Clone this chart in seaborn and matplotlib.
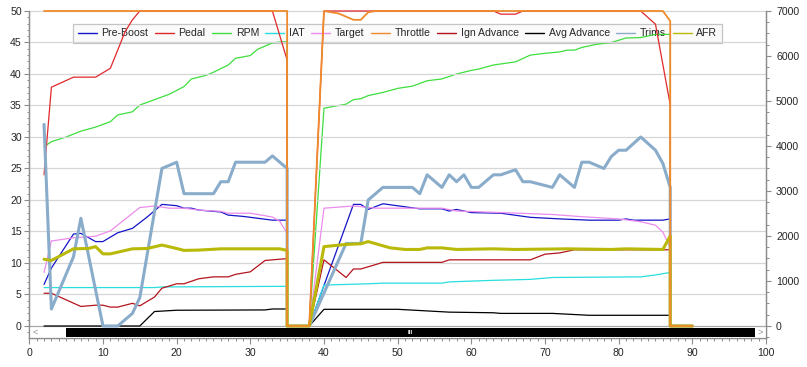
import matplotlib
matplotlib.use("Agg")
import matplotlib.pyplot as plt
from matplotlib.lines import Line2D
from matplotlib.patches import Rectangle
from matplotlib.ticker import MultipleLocator
import seaborn as sns

# ---------------- data ----------------
SERIES = ["Pre-Boost", "Pedal", "RPM", "IAT", "Target", "Throttle",
          "Ign Advance", "Avg Advance", "Trims", "AFR"]
COLORS = ["#1414c8", "#e0282c", "#3ede3e", "#28dede", "#ec8cec", "#ef8a2c",
          "#b4141c", "#000000", "#8aaccb", "#b9b909"]

X_TICKS = [0, 10, 20, 30, 40, 50, 60, 70, 80, 90, 100]
LEFT_TICKS = [0, 5, 10, 15, 20, 25, 30, 35, 40, 45, 50]
RIGHT_TICKS = [0, 1000, 2000, 3000, 4000, 5000, 6000, 7000]

# all channels read zero between the two pulls and after the second pull
GAP = [(35, 0), (38, 0)]
TAIL = [(87, 0), (90, 0)]

PRE_BOOST_1 = [(2, 6.6), (3, 9.2), (6, 14.6), (7, 14.7), (9, 13.4), (10, 13.4), (12, 14.8),
               (14, 15.5), (16, 17.3), (18, 19.3), (20, 19.1), (21, 18.7), (22, 18.7),
               (23, 18.4), (26, 18.1), (27, 17.6), (29, 17.4), (33, 16.8), (35, 16.8)]
PRE_BOOST_2 = [(44, 19.3), (45, 19.3), (46, 18.5), (48, 19.4), (53, 18.6), (56, 18.6),
               (57, 18.25), (58, 18.5), (60, 18.0), (64, 17.9), (68, 17.25), (72, 17.0),
               (76, 16.8), (80, 16.8), (81, 17.0), (82, 16.8), (86, 16.8), (87, 17.0)]

PEDAL_1 = [(2, 24.0), (3, 37.9), (6, 39.5), (9, 39.5), (11, 40.9), (12, 43.8), (13, 46.7),
           (14, 48.6), (15, 50), (33, 50), (35, 42.2)]
PEDAL_2 = [(40, 50), (63, 50), (64, 49.5), (66, 49.5), (67, 50), (83, 50), (85, 47.9),
           (87, 35.1)]

RPM_1 = [(2, 3985), (3, 4095), (5, 4200), (7, 4330), (9, 4420), (11, 4540), (12, 4690),
         (14, 4760), (15, 4910), (17, 5030), (19, 5150), (21, 5320), (22, 5490), (24, 5570),
         (25, 5640), (27, 5800), (28, 5950), (30, 6010), (31, 6150), (33, 6290), (34, 6310),
         (35, 6320)]
RPM_2 = [(40, 4840), (43, 4930), (44, 5030), (45, 5050), (46, 5120), (48, 5190), (50, 5280),
         (52, 5330), (54, 5450), (56, 5490), (58, 5600), (60, 5680), (61, 5710), (63, 5800),
         (66, 5870), (68, 6020), (70, 6060), (72, 6090), (73, 6130), (74, 6130), (75, 6190),
         (77, 6260), (79, 6300), (81, 6400), (83, 6410), (85, 6480), (87, 6480)]

IAT_1 = [(2, 6.1), (17, 6.1), (18, 6.2), (35, 6.3)]
IAT_2 = [(40, 6.5), (46, 6.7), (48, 6.8), (56, 6.8), (57, 7.0), (63, 7.25), (68, 7.4),
         (71, 7.7), (83, 7.8), (85, 8.1), (87, 8.5)]

TARGET_1 = [(2, 8.5), (3, 13.5), (6, 14.0), (9, 14.25), (11, 15.1), (15, 18.8), (17, 19.05),
            (19, 18.7), (21, 18.7), (23, 18.4), (26, 18.2), (27, 17.9), (30, 17.9),
            (32, 17.5), (33, 17.3), (34, 16.6), (35, 14.7)]
TARGET_2 = [(40, 18.7), (44, 19.05), (45, 18.95), (47, 18.7), (56, 18.7), (58, 18.25),
            (63, 18.05), (71, 17.7), (75, 17.35), (80, 17.0), (83, 16.55), (85, 16.0),
            (86, 14.9), (87, 12.4)]

THROTTLE_1 = [(2, 50), (35, 50)]
THROTTLE_2 = [(40, 50), (42, 49.6), (44, 48.6), (45, 48.6), (46, 49.8), (47, 50), (86, 50),
              (87, 48.4)]

IGN_1 = [(2, 5.2), (3, 5.2), (7, 3.1), (9, 3.3), (10, 3.3), (11, 3.0), (12, 3.0), (14, 3.6),
         (15, 3.2), (17, 4.6), (18, 6.0), (20, 6.7), (21, 6.7), (23, 7.5), (25, 7.8),
         (27, 7.8), (28, 8.2), (30, 8.6), (32, 10.4), (34, 10.6), (35, 10.7)]
IGN_2 = [(40, 10.5), (43, 7.7), (44, 9.05), (45, 9.05), (48, 10.1), (56, 10.1), (57, 10.5),
         (68, 10.5), (70, 11.4), (72, 11.6), (74, 12.1), (87, 12.1)]

AVG_1 = [(2, 0), (15, 0), (17, 2.3), (20, 2.5), (32, 2.55), (33, 2.7), (35, 2.7)]
AVG_2 = [(40, 2.65), (50, 2.65), (57, 2.2), (63, 2.1), (64, 2.0), (71, 2.0), (76, 1.7),
         (87, 1.7)]

TRIMS_1 = [(2, 32), (3, 2.7), (6, 11), (7, 17.1), (10, 0), (12, 0), (14, 2), (15, 4.5),
           (18, 25), (20, 26), (21, 21), (25, 21), (26, 22.9), (27, 22.9), (28, 26),
           (32, 26), (33, 27), (34, 26), (35, 25)]
TRIMS_2 = [(43, 13.1), (45, 13.1), (46, 20), (48, 22), (52, 22), (53, 21), (54, 24),
           (56, 22), (57, 24), (58, 22.9), (59, 24), (60, 22), (61, 22), (63, 24), (64, 24),
           (66, 24.8), (67, 22.9), (68, 22.9), (71, 22), (72, 24), (74, 22), (75, 26),
           (76, 26), (78, 25), (79, 26.9), (80, 27.9), (81, 27.9), (83, 30), (85, 27.9),
           (86, 25.8), (87, 22)]

AFR_1 = [(2, 10.6), (3, 10.4), (6, 12.25), (8, 12.3), (9, 12.6), (10, 11.45), (11, 11.45),
         (14, 12.25), (16, 12.3), (18, 12.85), (20, 12.3), (21, 12.0), (23, 12.05),
         (26, 12.25), (34, 12.25), (35, 12.0)]
AFR_2 = [(40, 12.6), (43, 12.95), (45, 13.05), (46, 13.4), (49, 12.4), (51, 12.15),
         (53, 12.15), (54, 12.4), (56, 12.4), (58, 12.15), (63, 12.25), (66, 12.15),
         (73, 12.25), (79, 12.15), (81, 12.25), (86, 12.15), (87, 14.3)]


def full(p1, p2):
    pts = p1 + GAP + p2 + TAIL
    return [p[0] for p in pts], [p[1] for p in pts]


# ---------------- style ----------------
sns.set_style("white")
plt.rcParams["font.family"] = ["Liberation Sans", "DejaVu Sans"]
plt.rcParams["font.size"] = 7.6

GRID = "#d6d6d6"
SPINE = "#8c8c8c"

fig = plt.figure(figsize=(8.07, 3.67), dpi=100)
fig.patch.set_facecolor("white")
rect = [29.3 / 807, 1 - 338 / 367, (766 - 29.3) / 807, (338 - 11) / 367]
ax = fig.add_axes(rect)
ax2 = ax.twinx()
ax.set_zorder(2)
ax2.set_zorder(1)
ax.patch.set_visible(False)
ax2.patch.set_facecolor("#fbfbfb")

Y_BOTTOM = -1.905
ax.set_xlim(X_TICKS[0], X_TICKS[-1])
ax.set_ylim(Y_BOTTOM, LEFT_TICKS[-1])
ax2.set_ylim(Y_BOTTOM * RIGHT_TICKS[-1] / LEFT_TICKS[-1], RIGHT_TICKS[-1])

# gridlines
for t in LEFT_TICKS:
    ax.axhline(t, color=GRID if t > 0 else "#a8a8a8", lw=0.9, zorder=0.5)

# scrollbar strip below zero
ax.add_patch(Rectangle((0, Y_BOTTOM), 100, -Y_BOTTOM, facecolor="white",
                       edgecolor="none", zorder=0.4))
ax.add_patch(Rectangle((5, -1.7), 93.5, 1.33, facecolor="black", edgecolor="none",
                       zorder=0.6))
ax.text(51.7, -1.03, "III", color="white", fontsize=4.5, fontweight="bold",
        ha="center", va="center", zorder=0.7)
ax.text(0.75, -0.95, "<", color="#909090", fontsize=6.5, ha="center", va="center")
ax.text(99.25, -0.95, ">", color="#909090", fontsize=6.5, ha="center", va="center")

left_data = [
    ("Pre-Boost", PRE_BOOST_1, PRE_BOOST_2, 0.9),
    ("Pedal", PEDAL_1, PEDAL_2, 0.9),
    ("IAT", IAT_1, IAT_2, 0.9),
    ("Target", TARGET_1, TARGET_2, 0.9),
    ("Ign Advance", IGN_1, IGN_2, 0.9),
    ("Avg Advance", AVG_1, AVG_2, 0.9),
    ("Trims", TRIMS_1, TRIMS_2, 2.2),
    ("AFR", AFR_1, AFR_2, 2.2),
    ("Throttle", THROTTLE_1, THROTTLE_2, 1.3),
]
cmap = dict(zip(SERIES, COLORS))
for i, (name, p1, p2, lw) in enumerate(left_data):
    xs, ys = full(p1, p2)
    sns.lineplot(x=xs, y=ys, ax=ax, color=cmap[name], linewidth=lw, sort=False,
                 estimator=None, legend=False, zorder=2 + i * 0.1)

xs, ys = full(RPM_1, RPM_2)
sns.lineplot(x=xs, y=ys, ax=ax2, color=cmap["RPM"], linewidth=0.9, sort=False,
             estimator=None, legend=False, zorder=2)

for a in (ax, ax2):
    a.set_xlabel("")
    a.set_ylabel("")
    for s in a.spines.values():
        s.set_color(SPINE)
        s.set_linewidth(0.9)
    a.spines["top"].set_visible(False)
    for l in a.get_lines():
        l.set_clip_on(False)

ax.set_xticks(X_TICKS)
ax.xaxis.set_minor_locator(MultipleLocator(1))
ax.set_yticks(LEFT_TICKS)
ax.yaxis.set_minor_locator(MultipleLocator(1))
ax2.set_yticks(RIGHT_TICKS)
ax2.yaxis.set_minor_locator(MultipleLocator(250))

ax.tick_params(axis="x", which="major", direction="out", length=4.1, width=0.8,
               color=SPINE, pad=3.0, labelsize=7.6, bottom=True)
ax.tick_params(axis="x", which="minor", direction="out", length=1.8, width=0.7,
               color=SPINE, bottom=True)
ax.tick_params(axis="y", which="major", direction="out", length=3.8, width=0.8,
               color=SPINE, pad=1.6, labelsize=7.6, left=True)
ax.tick_params(axis="y", which="minor", direction="out", length=1.8, width=0.7,
               color=SPINE, left=True)
ax2.tick_params(axis="y", which="major", direction="out", length=3.6, width=0.8,
                color=SPINE, pad=3.6, labelsize=7.6, right=True)
ax2.tick_params(axis="y", which="minor", direction="out", length=1.8, width=0.7,
                color=SPINE, right=True)

# legend (under the lines)
handles = [Line2D([], [], color=c, lw=1.0) for c in COLORS]
x0 = (73 - 29.3) / (766 - 29.3)
x1 = (722 - 29.3) / (766 - 29.3)
y1 = 1 - (21 - 11) / 327
y0 = 1 - (43 - 11) / 327
leg = ax2.legend(handles, SERIES, ncol=10, loc="lower left",
                 bbox_to_anchor=(x0, y0, x1 - x0, y1 - y0), mode="expand",
                 frameon=True, fancybox=False, framealpha=1, facecolor="#fafafa",
                 edgecolor="#c4c4c4", handlelength=1.8, handletextpad=0.45,
                 columnspacing=0.6, borderaxespad=0, borderpad=0.45, fontsize=7.6)
leg.get_frame().set_linewidth(0.9)
leg.set_zorder(0.5)

fig.savefig("out.png", dpi=100)
